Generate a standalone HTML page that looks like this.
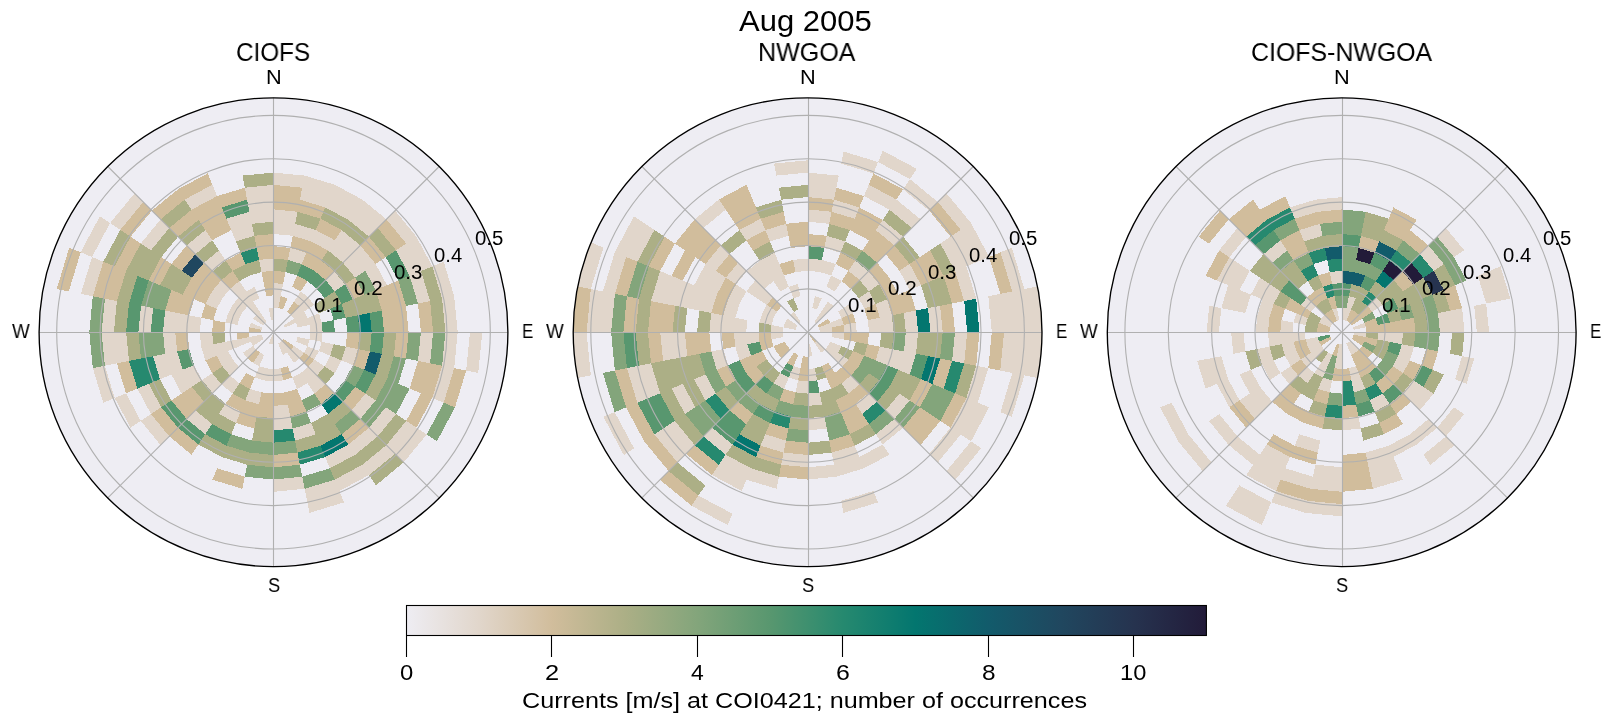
<!DOCTYPE html>
<html><head><meta charset="utf-8"><title>Aug 2005 currents</title>
<style>
html,body{margin:0;padding:0;background:#fff;}
body{width:1611px;height:724px;position:relative;overflow:hidden;font-family:"Liberation Sans",sans-serif;color:#000;}
svg{position:absolute;left:0;top:0;}
.t{position:absolute;white-space:nowrap;line-height:1;transform-origin:0 0;margin:0;will-change:transform;}
</style></head><body>

<svg width="1611" height="724" viewBox="0 0 1611 724">
<defs>
<clipPath id="c0"><circle cx="273.5" cy="332.2" r="234.4"/></clipPath>
<clipPath id="c1"><circle cx="807.6" cy="332.2" r="234.4"/></clipPath>
<clipPath id="c2"><circle cx="1341.7" cy="332.2" r="234.4"/></clipPath>
<linearGradient id="cb" x1="0" x2="1" y1="0" y2="0"><stop offset="0.0000" stop-color="#EEEDF3"/><stop offset="0.0909" stop-color="#E1D6CB"/><stop offset="0.1818" stop-color="#D1BD9C"/><stop offset="0.2727" stop-color="#ACAF86"/><stop offset="0.3636" stop-color="#83A57B"/><stop offset="0.4545" stop-color="#58976F"/><stop offset="0.5455" stop-color="#26896F"/><stop offset="0.6364" stop-color="#03766F"/><stop offset="0.7273" stop-color="#125B6B"/><stop offset="0.8182" stop-color="#20475F"/><stop offset="0.9091" stop-color="#26334F"/><stop offset="1.0000" stop-color="#221B39"/></linearGradient>
</defs>
<circle cx="273.5" cy="332.2" r="234.4" fill="#EEEDF3"/>
<g clip-path="url(#c0)" shape-rendering="crispEdges">
<path fill="#E1D6CB" d="M273.5 307.6L273.5 295.4L280.7 296.1L278.3 308.1ZM273.5 295.4L273.5 283.1L283.1 284.0L280.7 296.1ZM273.5 234.0L273.5 221.7L295.1 223.8L292.7 235.8ZM273.5 221.7L273.5 209.4L297.5 211.8L295.1 223.8ZM273.5 184.8L273.5 172.6L304.6 175.6L302.2 187.7ZM287.9 259.9L290.3 247.9L306.4 252.8L301.7 264.1ZM292.7 235.8L295.1 223.8L315.8 230.1L311.1 241.4ZM299.9 199.7L302.2 187.7L329.9 196.1L325.2 207.4ZM302.2 187.7L304.6 175.6L334.6 184.7L329.9 196.1ZM311.1 241.4L315.8 230.1L334.9 240.3L328.1 250.5ZM325.2 207.4L329.9 196.1L355.4 209.7L348.5 219.9ZM329.9 196.1L334.6 184.7L362.2 199.5L355.4 209.7ZM294.0 301.6L300.8 291.4L308.2 297.5L299.5 306.2ZM328.1 250.5L334.9 240.3L351.6 254.1L343.0 262.7ZM334.9 240.3L341.7 230.1L360.3 245.4L351.6 254.1ZM348.5 219.9L355.4 209.7L377.7 228.0L369.0 236.7ZM355.4 209.7L362.2 199.5L386.4 219.3L377.7 228.0ZM290.9 314.8L299.5 306.2L304.1 311.7L293.9 318.6ZM299.5 306.2L308.2 297.5L314.3 304.9L304.1 311.7ZM325.6 280.1L334.3 271.4L345.0 284.4L334.8 291.3ZM343.0 262.7L351.6 254.1L365.4 270.8L355.2 277.6ZM351.6 254.1L360.3 245.4L375.6 264.0L365.4 270.8ZM386.4 219.3L395.1 210.6L416.4 236.7L406.2 243.5ZM283.7 325.4L293.9 318.6L296.2 322.8L284.8 327.5ZM293.9 318.6L304.1 311.7L307.5 318.1L296.2 322.8ZM365.4 270.8L375.6 264.0L387.0 285.2L375.6 289.9ZM396.0 250.3L406.2 243.5L421.0 271.1L409.6 275.8ZM406.2 243.5L416.4 236.7L432.3 266.4L421.0 271.1ZM296.2 322.8L307.5 318.1L309.6 325.0L297.6 327.4ZM307.5 318.1L318.9 313.4L321.7 322.6L309.6 325.0ZM409.6 275.8L421.0 271.1L430.1 301.1L418.0 303.5ZM432.3 266.4L443.7 261.7L454.2 296.3L442.1 298.7ZM309.6 325.0L321.7 322.6L322.6 332.2L310.3 332.2ZM442.1 298.7L454.2 296.3L457.7 332.2L445.4 332.2ZM310.3 332.2L322.6 332.2L321.7 341.8L309.6 339.4ZM420.9 332.2L433.1 332.2L430.1 363.3L418.0 360.9ZM445.4 332.2L457.7 332.2L454.2 368.1L442.1 365.7ZM470.0 332.2L482.3 332.2L478.2 372.9L466.2 370.5ZM297.6 337.0L309.6 339.4L307.5 346.3L296.2 341.6ZM321.7 341.8L333.7 344.2L330.2 355.7L318.9 351.0ZM345.8 346.6L357.8 349.0L352.9 365.1L341.6 360.4ZM442.1 365.7L454.2 368.1L443.7 402.7L432.3 398.0ZM307.5 346.3L318.9 351.0L314.3 359.5L304.1 352.7ZM330.2 355.7L341.6 360.4L334.8 373.1L324.6 366.3ZM293.9 345.8L304.1 352.7L299.5 358.2L290.9 349.6ZM314.3 359.5L324.6 366.3L316.9 375.6L308.2 366.9ZM365.4 393.6L375.6 400.4L360.3 419.0L351.6 410.3ZM385.8 407.2L396.0 414.1L377.7 436.4L369.0 427.7ZM406.2 420.9L416.4 427.7L395.1 453.8L386.4 445.1ZM416.4 427.7L426.7 434.5L403.7 462.4L395.1 453.8ZM282.2 340.9L290.9 349.6L287.1 352.6L280.3 342.4ZM290.9 349.6L299.5 358.2L294.0 362.8L287.1 352.6ZM308.2 366.9L316.9 375.6L307.6 383.3L300.8 373.0ZM316.9 375.6L325.6 384.3L314.4 393.5L307.6 383.3ZM369.0 427.7L377.7 436.4L355.4 454.7L348.5 444.5ZM386.4 445.1L395.1 453.8L369.0 475.1L362.2 464.9ZM280.3 342.4L287.1 352.6L282.9 354.9L278.2 343.5ZM300.8 373.0L307.6 383.3L297.0 388.9L292.3 377.6ZM348.5 444.5L355.4 454.7L329.9 468.3L325.2 457.0ZM362.2 464.9L369.0 475.1L339.3 491.0L334.6 479.7ZM311.1 423.0L315.8 434.3L295.1 440.6L292.7 428.6ZM334.6 479.7L339.3 491.0L307.0 500.8L304.6 488.8ZM339.3 491.0L344.0 502.4L309.4 512.9L307.0 500.8ZM280.7 368.3L283.1 380.4L273.5 381.3L273.5 369.0ZM287.9 404.5L290.3 416.5L273.5 418.2L273.5 405.9ZM290.3 416.5L292.7 428.6L273.5 430.4L273.5 418.2ZM302.2 476.7L304.6 488.8L273.5 491.8L273.5 479.6ZM273.5 332.2L273.5 344.5L271.1 344.2L273.5 332.2ZM273.5 369.0L273.5 381.3L263.9 380.4L266.3 368.3ZM273.5 332.2L271.1 344.2L268.8 343.5L273.5 332.2ZM266.3 368.3L263.9 380.4L254.7 377.6L259.4 366.2ZM261.5 392.4L259.1 404.5L245.3 400.3L250.0 388.9ZM264.1 354.9L259.4 366.2L253.0 362.8L259.9 352.6ZM240.6 411.6L235.9 423.0L218.9 413.9L225.7 403.7ZM239.4 383.3L232.6 393.5L221.4 384.3L230.1 375.6ZM212.1 424.1L205.3 434.3L186.7 419.0L195.4 410.3ZM256.1 349.6L247.5 358.2L242.9 352.7L253.1 345.8ZM238.8 366.9L230.1 375.6L222.4 366.3L232.7 359.5ZM221.4 384.3L212.7 393.0L202.0 380.0L212.2 373.1ZM169.3 436.4L160.6 445.1L140.8 420.9L151.0 414.1ZM263.3 339.0L253.1 345.8L250.8 341.6L262.2 336.9ZM232.7 359.5L222.4 366.3L216.8 355.7L228.1 351.0ZM202.0 380.0L191.8 386.8L182.7 369.8L194.1 365.1ZM191.8 386.8L181.6 393.6L171.4 374.5L182.7 369.8ZM161.2 407.2L151.0 414.1L137.4 388.6L148.7 383.9ZM140.8 420.9L130.6 427.7L114.7 398.0L126.0 393.3ZM262.2 336.9L250.8 341.6L249.4 337.0L261.5 334.6ZM250.8 341.6L239.5 346.3L237.4 339.4L249.4 337.0ZM239.5 346.3L228.1 351.0L225.3 341.8L237.4 339.4ZM228.1 351.0L216.8 355.7L213.3 344.2L225.3 341.8ZM216.8 355.7L205.4 360.4L201.2 346.6L213.3 344.2ZM182.7 369.8L171.4 374.5L165.1 353.8L177.1 351.4ZM171.4 374.5L160.0 379.2L153.1 356.2L165.1 353.8ZM114.7 398.0L103.3 402.7L92.8 368.1L104.9 365.7ZM213.3 344.2L201.2 346.6L199.8 332.2L212.1 332.2ZM177.1 351.4L165.1 353.8L163.0 332.2L175.3 332.2ZM129.0 360.9L116.9 363.3L113.9 332.2L126.1 332.2ZM116.9 363.3L104.9 365.7L101.6 332.2L113.9 332.2ZM199.8 332.2L187.5 332.2L189.2 315.4L201.2 317.8ZM187.5 332.2L175.3 332.2L177.1 313.0L189.2 315.4ZM175.3 332.2L163.0 332.2L165.1 310.6L177.1 313.0ZM150.7 332.2L138.4 332.2L141.0 305.8L153.1 308.2ZM113.9 332.2L101.6 332.2L104.9 298.7L116.9 301.1ZM261.5 329.8L249.4 327.4L250.8 322.8L262.2 327.5ZM237.4 325.0L225.3 322.6L228.1 313.4L239.5 318.1ZM92.8 296.3L80.8 293.9L92.0 257.0L103.3 261.7ZM239.5 318.1L228.1 313.4L232.7 304.9L242.9 311.7ZM216.8 308.7L205.4 304.0L212.2 291.3L222.4 298.1ZM92.0 257.0L80.6 252.3L99.9 216.2L110.1 223.0ZM263.3 325.4L253.1 318.6L256.1 314.8L264.8 323.5ZM242.9 311.7L232.7 304.9L238.8 297.5L247.5 306.2ZM222.4 298.1L212.2 291.3L221.4 280.1L230.1 288.8ZM151.0 250.3L140.8 243.5L160.6 219.3L169.3 228.0ZM120.3 229.9L110.1 223.0L134.6 193.3L143.3 202.0ZM264.8 323.5L256.1 314.8L259.9 311.8L266.7 322.0ZM256.1 314.8L247.5 306.2L253.0 301.6L259.9 311.8ZM247.5 306.2L238.8 297.5L246.2 291.4L253.0 301.6ZM238.8 297.5L230.1 288.8L239.4 281.1L246.2 291.4ZM212.7 271.4L204.0 262.7L218.9 250.5L225.7 260.7ZM195.4 254.1L186.7 245.4L205.3 230.1L212.1 240.3ZM253.0 301.6L246.2 291.4L254.7 286.8L259.4 298.2ZM191.6 209.7L184.8 199.5L212.4 184.7L217.1 196.1ZM235.9 241.4L231.2 230.1L251.9 223.8L254.3 235.8ZM231.2 230.1L226.5 218.7L249.5 211.8L251.9 223.8ZM271.1 320.2L268.7 308.1L273.5 307.6L273.5 319.9ZM261.5 272.0L259.1 259.9L273.5 258.5L273.5 270.8ZM251.9 223.8L249.5 211.8L273.5 209.4L273.5 221.7ZM249.5 211.8L247.1 199.7L273.5 197.1L273.5 209.4ZM247.1 199.7L244.8 187.7L273.5 184.8L273.5 197.1Z"/>
<path fill="#D1BD9C" d="M273.5 283.1L273.5 270.8L285.5 272.0L283.1 284.0ZM273.5 258.5L273.5 246.2L290.3 247.9L287.9 259.9ZM273.5 209.4L273.5 197.1L299.9 199.7L297.5 211.8ZM273.5 197.1L273.5 184.8L302.2 187.7L299.9 199.7ZM278.3 308.1L280.7 296.1L287.6 298.2L282.9 309.5ZM290.3 247.9L292.7 235.8L311.1 241.4L306.4 252.8ZM297.5 211.8L299.9 199.7L325.2 207.4L320.5 218.7ZM292.3 286.8L297.0 275.5L307.6 281.1L300.8 291.4ZM301.7 264.1L306.4 252.8L321.3 260.7L314.4 270.9ZM306.4 252.8L311.1 241.4L328.1 250.5L321.3 260.7ZM315.8 230.1L320.5 218.7L341.7 230.1L334.9 240.3ZM287.1 311.8L294.0 301.6L299.5 306.2L290.9 314.8ZM314.4 270.9L321.3 260.7L334.3 271.4L325.6 280.1ZM360.3 245.4L369.0 236.7L385.8 257.2L375.6 264.0ZM377.7 228.0L386.4 219.3L406.2 243.5L396.0 250.3ZM345.0 284.4L355.2 277.6L364.3 294.6L352.9 299.3ZM375.6 289.9L387.0 285.2L393.9 308.2L381.9 310.6ZM387.0 285.2L398.3 280.5L406.0 305.8L393.9 308.2ZM381.9 310.6L393.9 308.2L396.3 332.2L384.0 332.2ZM393.9 308.2L406.0 305.8L408.6 332.2L396.3 332.2ZM418.0 303.5L430.1 301.1L433.1 332.2L420.9 332.2ZM347.2 332.2L359.5 332.2L357.8 349.0L345.8 346.6ZM396.3 332.2L408.6 332.2L406.0 358.6L393.9 356.2ZM357.8 349.0L369.9 351.4L364.3 369.8L352.9 365.1ZM418.0 360.9L430.1 363.3L421.0 393.3L409.6 388.6ZM430.1 363.3L442.1 365.7L432.3 398.0L421.0 393.3ZM454.2 368.1L466.2 370.5L455.0 407.4L443.7 402.7ZM421.0 393.3L432.3 398.0L416.4 427.7L406.2 420.9ZM283.7 339.0L293.9 345.8L290.9 349.6L282.2 340.9ZM304.1 352.7L314.3 359.5L308.2 366.9L299.5 358.2ZM355.2 386.8L365.4 393.6L351.6 410.3L343.0 401.7ZM325.6 384.3L334.3 393.0L321.3 403.7L314.4 393.5ZM360.3 419.0L369.0 427.7L348.5 444.5L341.7 434.3ZM287.6 366.2L292.3 377.6L283.1 380.4L280.7 368.3ZM297.0 388.9L301.7 400.3L287.9 404.5L285.5 392.4ZM301.7 400.3L306.4 411.6L290.3 416.5L287.9 404.5ZM285.5 392.4L287.9 404.5L273.5 405.9L273.5 393.6ZM297.5 452.6L299.9 464.7L273.5 467.3L273.5 455.0ZM273.5 393.6L273.5 405.9L259.1 404.5L261.5 392.4ZM273.5 405.9L273.5 418.2L256.7 416.5L259.1 404.5ZM259.1 404.5L256.7 416.5L240.6 411.6L245.3 400.3ZM256.7 416.5L254.3 428.6L235.9 423.0L240.6 411.6ZM244.8 476.7L242.4 488.8L212.4 479.7L217.1 468.3ZM254.7 377.6L250.0 388.9L239.4 383.3L246.2 373.0ZM245.3 400.3L240.6 411.6L225.7 403.7L232.6 393.5ZM259.9 352.6L253.0 362.8L247.5 358.2L256.1 349.6ZM198.5 444.5L191.6 454.7L169.3 436.4L178.0 427.7ZM204.0 401.7L195.4 410.3L181.6 393.6L191.8 386.8ZM195.4 410.3L186.7 419.0L171.4 400.4L181.6 393.6ZM178.0 427.7L169.3 436.4L151.0 414.1L161.2 407.2ZM222.4 366.3L212.2 373.1L205.4 360.4L216.8 355.7ZM137.4 388.6L126.0 393.3L116.9 363.3L129.0 360.9ZM249.4 337.0L237.4 339.4L236.7 332.2L248.9 332.2ZM189.2 349.0L177.1 351.4L175.3 332.2L187.5 332.2ZM261.2 332.2L248.9 332.2L249.4 327.4L261.5 329.8ZM224.4 332.2L212.1 332.2L213.3 320.2L225.3 322.6ZM213.3 320.2L201.2 317.8L205.4 304.0L216.8 308.7ZM189.2 315.4L177.1 313.0L182.7 294.6L194.1 299.3ZM177.1 313.0L165.1 310.6L171.4 289.9L182.7 294.6ZM116.9 301.1L104.9 298.7L114.7 266.4L126.0 271.1ZM104.9 298.7L92.8 296.3L103.3 261.7L114.7 266.4ZM68.8 291.5L56.7 289.1L69.3 247.6L80.6 252.3ZM205.4 304.0L194.1 299.3L202.0 284.4L212.2 291.3ZM194.1 299.3L182.7 294.6L191.8 277.6L202.0 284.4ZM160.0 285.2L148.7 280.5L161.2 257.2L171.4 264.0ZM126.0 271.1L114.7 266.4L130.6 236.7L140.8 243.5ZM212.2 291.3L202.0 284.4L212.7 271.4L221.4 280.1ZM202.0 284.4L191.8 277.6L204.0 262.7L212.7 271.4ZM181.6 270.8L171.4 264.0L186.7 245.4L195.4 254.1ZM130.6 236.7L120.3 229.9L143.3 202.0L151.9 210.6ZM230.1 288.8L221.4 280.1L232.6 270.9L239.4 281.1ZM178.0 236.7L169.3 228.0L191.6 209.7L198.5 219.9ZM160.6 219.3L151.9 210.6L178.0 189.3L184.8 199.5ZM232.6 270.9L225.7 260.7L240.6 252.8L245.3 264.1ZM212.1 240.3L205.3 230.1L226.5 218.7L231.2 230.1ZM205.3 230.1L198.5 219.9L221.8 207.4L226.5 218.7ZM198.5 219.9L191.6 209.7L217.1 196.1L221.8 207.4ZM184.8 199.5L178.0 189.3L207.7 173.4L212.4 184.7ZM221.8 207.4L217.1 196.1L244.8 187.7L247.1 199.7ZM266.3 296.1L263.9 284.0L273.5 283.1L273.5 295.4ZM263.9 284.0L261.5 272.0L273.5 270.8L273.5 283.1ZM259.1 259.9L256.7 247.9L273.5 246.2L273.5 258.5ZM256.7 247.9L254.3 235.8L273.5 234.0L273.5 246.2Z"/>
<path fill="#ACAF86" d="M273.5 270.8L273.5 258.5L287.9 259.9L285.5 272.0ZM295.1 223.8L297.5 211.8L320.5 218.7L315.8 230.1ZM320.5 218.7L325.2 207.4L348.5 219.9L341.7 230.1ZM321.3 260.7L328.1 250.5L343.0 262.7L334.3 271.4ZM341.7 230.1L348.5 219.9L369.0 236.7L360.3 245.4ZM334.3 271.4L343.0 262.7L355.2 277.6L345.0 284.4ZM369.0 236.7L377.7 228.0L396.0 250.3L385.8 257.2ZM314.3 304.9L324.6 298.1L330.2 308.7L318.9 313.4ZM324.6 298.1L334.8 291.3L341.6 304.0L330.2 308.7ZM341.6 304.0L352.9 299.3L357.8 315.4L345.8 317.8ZM352.9 299.3L364.3 294.6L369.9 313.0L357.8 315.4ZM364.3 294.6L375.6 289.9L381.9 310.6L369.9 313.0ZM421.0 271.1L432.3 266.4L442.1 298.7L430.1 301.1ZM430.1 301.1L442.1 298.7L445.4 332.2L433.1 332.2ZM359.5 332.2L371.7 332.2L369.9 351.4L357.8 349.0ZM384.0 332.2L396.3 332.2L393.9 356.2L381.9 353.8ZM333.7 344.2L345.8 346.6L341.6 360.4L330.2 355.7ZM381.9 353.8L393.9 356.2L387.0 379.2L375.6 374.5ZM375.6 374.5L387.0 379.2L375.6 400.4L365.4 393.6ZM324.6 366.3L334.8 373.1L325.6 384.3L316.9 375.6ZM396.0 414.1L406.2 420.9L386.4 445.1L377.7 436.4ZM343.0 401.7L351.6 410.3L334.9 424.1L328.1 413.9ZM377.7 436.4L386.4 445.1L362.2 464.9L355.4 454.7ZM395.1 453.8L403.7 462.4L375.8 485.4L369.0 475.1ZM328.1 413.9L334.9 424.1L315.8 434.3L311.1 423.0ZM334.9 424.1L341.7 434.3L320.5 445.7L315.8 434.3ZM355.4 454.7L362.2 464.9L334.6 479.7L329.9 468.3ZM315.8 434.3L320.5 445.7L297.5 452.6L295.1 440.6ZM273.5 418.2L273.5 430.4L254.3 428.6L256.7 416.5ZM273.5 430.4L273.5 442.7L251.9 440.6L254.3 428.6ZM273.5 455.0L273.5 467.3L247.1 464.7L249.5 452.6ZM249.5 452.6L247.1 464.7L221.8 457.0L226.5 445.7ZM250.0 388.9L245.3 400.3L232.6 393.5L239.4 383.3ZM235.9 423.0L231.2 434.3L212.1 424.1L218.9 413.9ZM226.5 445.7L221.8 457.0L198.5 444.5L205.3 434.3ZM225.7 403.7L218.9 413.9L204.0 401.7L212.7 393.0ZM218.9 413.9L212.1 424.1L195.4 410.3L204.0 401.7ZM230.1 375.6L221.4 384.3L212.2 373.1L222.4 366.3ZM212.7 393.0L204.0 401.7L191.8 386.8L202.0 380.0ZM171.4 400.4L161.2 407.2L148.7 383.9L160.0 379.2ZM225.3 341.8L213.3 344.2L212.1 332.2L224.4 332.2ZM141.0 358.6L129.0 360.9L126.1 332.2L138.4 332.2ZM126.1 332.2L113.9 332.2L116.9 301.1L129.0 303.5ZM129.0 303.5L116.9 301.1L126.0 271.1L137.4 275.8ZM182.7 294.6L171.4 289.9L181.6 270.8L191.8 277.6ZM171.4 289.9L160.0 285.2L171.4 264.0L181.6 270.8ZM148.7 280.5L137.4 275.8L151.0 250.3L161.2 257.2ZM137.4 275.8L126.0 271.1L140.8 243.5L151.0 250.3ZM114.7 266.4L103.3 261.7L120.3 229.9L130.6 236.7ZM161.2 257.2L151.0 250.3L169.3 228.0L178.0 236.7ZM221.4 280.1L212.7 271.4L225.7 260.7L232.6 270.9ZM204.0 262.7L195.4 254.1L212.1 240.3L218.9 250.5ZM186.7 245.4L178.0 236.7L198.5 219.9L205.3 230.1ZM169.3 228.0L160.6 219.3L184.8 199.5L191.6 209.7ZM239.4 281.1L232.6 270.9L245.3 264.1L250.0 275.5ZM250.0 275.5L245.3 264.1L259.1 259.9L261.5 272.0ZM240.6 252.8L235.9 241.4L254.3 235.8L256.7 247.9ZM254.3 235.8L251.9 223.8L273.5 221.7L273.5 234.0ZM244.8 187.7L242.4 175.6L273.5 172.6L273.5 184.8Z"/>
<path fill="#83A57B" d="M285.5 272.0L287.9 259.9L301.7 264.1L297.0 275.5ZM355.2 277.6L365.4 270.8L375.6 289.9L364.3 294.6ZM398.3 280.5L409.6 275.8L418.0 303.5L406.0 305.8ZM408.6 332.2L420.9 332.2L418.0 360.9L406.0 358.6ZM433.1 332.2L445.4 332.2L442.1 365.7L430.1 363.3ZM393.9 356.2L406.0 358.6L398.3 383.9L387.0 379.2ZM352.9 365.1L364.3 369.8L355.2 386.8L345.0 380.0ZM387.0 379.2L398.3 383.9L385.8 407.2L375.6 400.4ZM398.3 383.9L409.6 388.6L396.0 414.1L385.8 407.2ZM443.7 402.7L455.0 407.4L436.9 441.4L426.7 434.5ZM375.6 400.4L385.8 407.2L369.0 427.7L360.3 419.0ZM351.6 410.3L360.3 419.0L341.7 434.3L334.9 424.1ZM314.4 393.5L321.3 403.7L306.4 411.6L301.7 400.3ZM306.4 411.6L311.1 423.0L292.7 428.6L290.3 416.5ZM329.9 468.3L334.6 479.7L304.6 488.8L302.2 476.7ZM295.1 440.6L297.5 452.6L273.5 455.0L273.5 442.7ZM299.9 464.7L302.2 476.7L273.5 479.6L273.5 467.3ZM273.5 442.7L273.5 455.0L249.5 452.6L251.9 440.6ZM273.5 467.3L273.5 479.6L244.8 476.7L247.1 464.7ZM251.9 440.6L249.5 452.6L226.5 445.7L231.2 434.3ZM165.1 353.8L153.1 356.2L150.7 332.2L163.0 332.2ZM153.1 356.2L141.0 358.6L138.4 332.2L150.7 332.2ZM104.9 365.7L92.8 368.1L89.3 332.2L101.6 332.2ZM101.6 332.2L89.3 332.2L92.8 296.3L104.9 298.7ZM165.1 310.6L153.1 308.2L160.0 285.2L171.4 289.9ZM153.1 308.2L141.0 305.8L148.7 280.5L160.0 285.2Z"/>
<path fill="#58976F" d="M297.0 275.5L301.7 264.1L314.4 270.9L307.6 281.1ZM307.6 281.1L314.4 270.9L325.6 280.1L316.9 288.8ZM316.9 288.8L325.6 280.1L334.8 291.3L324.6 298.1ZM334.8 291.3L345.0 284.4L352.9 299.3L341.6 304.0ZM385.8 257.2L396.0 250.3L409.6 275.8L398.3 280.5ZM330.2 308.7L341.6 304.0L345.8 317.8L333.7 320.2ZM321.7 322.6L333.7 320.2L334.9 332.2L322.6 332.2ZM345.8 317.8L357.8 315.4L359.5 332.2L347.2 332.2ZM369.9 313.0L381.9 310.6L384.0 332.2L371.7 332.2ZM371.7 332.2L384.0 332.2L381.9 353.8L369.9 351.4ZM364.3 369.8L375.6 374.5L365.4 393.6L355.2 386.8ZM345.0 380.0L355.2 386.8L343.0 401.7L334.3 393.0ZM231.2 434.3L226.5 445.7L205.3 434.3L212.1 424.1ZM205.3 434.3L198.5 444.5L178.0 427.7L186.7 419.0ZM186.7 419.0L178.0 427.7L161.2 407.2L171.4 400.4ZM194.1 365.1L182.7 369.8L177.1 351.4L189.2 349.0ZM163.0 332.2L150.7 332.2L153.1 308.2L165.1 310.6ZM138.4 332.2L126.1 332.2L129.0 303.5L141.0 305.8ZM141.0 305.8L129.0 303.5L137.4 275.8L148.7 280.5ZM226.5 218.7L221.8 207.4L247.1 199.7L249.5 211.8Z"/>
<path fill="#26896F" d="M320.5 445.7L325.2 457.0L299.9 464.7L297.5 452.6ZM292.7 428.6L295.1 440.6L273.5 442.7L273.5 430.4ZM160.0 379.2L148.7 383.9L141.0 358.6L153.1 356.2ZM148.7 383.9L137.4 388.6L129.0 360.9L141.0 358.6ZM245.3 264.1L240.6 252.8L256.7 247.9L259.1 259.9Z"/>
<path fill="#03766F" d="M357.8 315.4L369.9 313.0L371.7 332.2L359.5 332.2ZM334.3 393.0L343.0 401.7L328.1 413.9L321.3 403.7ZM341.7 434.3L348.5 444.5L325.2 457.0L320.5 445.7Z"/>
<path fill="#125B6B" d="M369.9 351.4L381.9 353.8L375.6 374.5L364.3 369.8Z"/>
<path fill="#20475F" d="M191.8 277.6L181.6 270.8L195.4 254.1L204.0 262.7Z"/>
</g>
<g fill="none" stroke="#b0b0b0" stroke-width="1.1">
<circle cx="273.5" cy="332.2" r="43.36"/>
<circle cx="273.5" cy="332.2" r="86.72"/>
<circle cx="273.5" cy="332.2" r="130.08"/>
<circle cx="273.5" cy="332.2" r="173.44"/>
<circle cx="273.5" cy="332.2" r="216.80"/>
<path d="M273.5 332.2L439.2 166.5"/>
<path d="M273.5 332.2L439.2 497.9"/>
<path d="M273.5 332.2L107.8 497.9"/>
<path d="M273.5 332.2L107.8 166.5"/>
<path d="M273.5 97.8V566.6"/>
<path d="M39.1 332.5H507.9"/>
</g>
<circle cx="273.5" cy="332.2" r="234.4" fill="none" stroke="#000" stroke-width="1.35"/>
<circle cx="807.6" cy="332.2" r="234.4" fill="#EEEDF3"/>
<g clip-path="url(#c1)" shape-rendering="crispEdges">
<path fill="#E1D6CB" d="M807.6 270.8L807.6 258.5L822.0 259.9L819.6 272.0ZM807.6 221.7L807.6 209.4L831.6 211.8L829.2 223.8ZM807.6 197.1L807.6 184.8L836.3 187.7L834.0 199.7ZM807.6 184.8L807.6 172.6L838.7 175.6L836.3 187.7ZM812.4 308.1L814.8 296.1L821.7 298.2L817.0 309.5ZM819.6 272.0L822.0 259.9L835.8 264.1L831.1 275.5ZM824.4 247.9L826.8 235.8L845.2 241.4L840.5 252.8ZM831.6 211.8L834.0 199.7L859.3 207.4L854.6 218.7ZM841.1 163.6L843.5 151.5L878.1 162.0L873.4 173.4ZM826.4 286.8L831.1 275.5L841.7 281.1L834.9 291.4ZM864.0 196.1L868.7 184.7L896.3 199.5L889.5 209.7ZM878.1 162.0L882.8 150.7L916.8 168.8L909.9 179.0ZM814.4 322.0L821.2 311.8L825.0 314.8L816.3 323.5ZM821.2 311.8L828.1 301.6L833.6 306.2L825.0 314.8ZM848.5 270.9L855.4 260.7L868.4 271.4L859.7 280.1ZM875.8 230.1L882.6 219.9L903.1 236.7L894.4 245.4ZM889.5 209.7L896.3 199.5L920.5 219.3L911.8 228.0ZM903.1 189.3L909.9 179.0L937.8 202.0L929.2 210.6ZM859.7 280.1L868.4 271.4L879.1 284.4L868.9 291.3ZM937.8 202.0L946.5 193.3L971.0 223.0L960.8 229.9ZM838.2 311.7L848.4 304.9L853.0 313.4L841.6 318.1ZM858.7 298.1L868.9 291.3L875.7 304.0L864.3 308.7ZM899.5 270.8L909.7 264.0L921.1 285.2L909.7 289.9ZM940.3 243.5L950.5 236.7L966.4 266.4L955.1 271.1ZM950.5 236.7L960.8 229.9L977.8 261.7L966.4 266.4ZM960.8 229.9L971.0 223.0L989.1 257.0L977.8 261.7ZM818.9 327.5L830.3 322.8L831.7 327.4L819.6 329.8ZM830.3 322.8L841.6 318.1L843.7 325.0L831.7 327.4ZM875.7 304.0L887.0 299.3L891.9 315.4L879.9 317.8ZM955.1 271.1L966.4 266.4L976.2 298.7L964.2 301.1ZM1000.5 252.3L1011.8 247.6L1024.4 289.1L1012.3 291.5ZM819.6 329.8L831.7 327.4L832.2 332.2L819.9 332.2ZM843.7 325.0L855.8 322.6L856.7 332.2L844.4 332.2ZM867.8 320.2L879.9 317.8L881.3 332.2L869.0 332.2ZM879.9 317.8L891.9 315.4L893.6 332.2L881.3 332.2ZM904.0 313.0L916.0 310.6L918.1 332.2L905.8 332.2ZM928.0 308.2L940.1 305.8L942.7 332.2L930.4 332.2ZM988.3 296.3L1000.3 293.9L1004.1 332.2L991.8 332.2ZM1000.3 293.9L1012.3 291.5L1016.4 332.2L1004.1 332.2ZM1012.3 291.5L1024.4 289.1L1028.6 332.2L1016.4 332.2ZM1024.4 289.1L1038.7 286.2L1043.2 332.2L1028.6 332.2ZM832.2 332.2L844.4 332.2L843.7 339.4L831.7 337.0ZM905.8 332.2L918.1 332.2L916.0 353.8L904.0 351.4ZM955.0 332.2L967.2 332.2L964.2 363.3L952.1 360.9ZM1004.1 332.2L1016.4 332.2L1012.3 372.9L1000.3 370.5ZM1016.4 332.2L1028.6 332.2L1024.4 375.3L1012.3 372.9ZM1028.6 332.2L1043.2 332.2L1038.7 378.2L1024.4 375.3ZM879.9 346.6L891.9 349.0L887.0 365.1L875.7 360.4ZM891.9 349.0L904.0 351.4L898.4 369.8L887.0 365.1ZM904.0 351.4L916.0 353.8L909.7 374.5L898.4 369.8ZM976.2 365.7L988.3 368.1L977.8 402.7L966.4 398.0ZM1012.3 372.9L1024.4 375.3L1011.8 416.8L1000.5 412.1ZM830.3 341.6L841.6 346.3L838.2 352.7L828.0 345.8ZM966.4 398.0L977.8 402.7L960.8 434.5L950.5 427.7ZM977.8 402.7L989.1 407.4L971.0 441.4L960.8 434.5ZM828.0 345.8L838.2 352.7L833.6 358.2L825.0 349.6ZM838.2 352.7L848.4 359.5L842.3 366.9L833.6 358.2ZM899.5 393.6L909.7 400.4L894.4 419.0L885.7 410.3ZM950.5 427.7L960.8 434.5L937.8 462.4L929.2 453.8ZM971.0 441.4L981.2 448.2L955.2 479.8L946.5 471.1ZM816.3 340.9L825.0 349.6L821.2 352.6L814.4 342.4ZM851.0 375.6L859.7 384.3L848.5 393.5L841.7 383.3ZM868.4 393.0L877.1 401.7L862.2 413.9L855.4 403.7ZM894.4 419.0L903.1 427.7L882.6 444.5L875.8 434.3ZM882.6 444.5L889.5 454.7L864.0 468.3L859.3 457.0ZM854.6 445.7L859.3 457.0L834.0 464.7L831.6 452.6ZM859.3 457.0L864.0 468.3L836.3 476.7L834.0 464.7ZM873.4 491.0L878.1 502.4L843.5 512.9L841.1 500.8ZM810.0 344.2L812.4 356.3L807.6 356.8L807.6 344.5ZM814.8 368.3L817.2 380.4L807.6 381.3L807.6 369.0ZM819.6 392.4L822.0 404.5L807.6 405.9L807.6 393.6ZM824.4 416.5L826.8 428.6L807.6 430.4L807.6 418.2ZM834.0 464.7L836.3 476.7L807.6 479.6L807.6 467.3ZM807.6 381.3L807.6 393.6L795.6 392.4L798.0 380.4ZM807.6 455.0L807.6 467.3L781.2 464.7L783.6 452.6ZM800.4 368.3L798.0 380.4L788.8 377.6L793.5 366.2ZM786.0 440.6L783.6 452.6L760.6 445.7L765.3 434.3ZM778.9 476.7L776.5 488.8L746.5 479.7L751.2 468.3ZM788.8 377.6L784.1 388.9L773.5 383.3L780.3 373.0ZM751.2 468.3L746.5 479.7L718.9 464.9L725.7 454.7ZM746.5 479.7L741.8 491.0L712.1 475.1L718.9 464.9ZM732.4 513.7L727.7 525.1L691.6 505.8L698.4 495.6ZM732.6 444.5L725.7 454.7L703.4 436.4L712.1 427.7ZM694.7 445.1L686.0 453.8L664.7 427.7L674.9 420.9ZM686.0 453.8L677.4 462.4L654.4 434.5L664.7 427.7ZM715.7 393.6L705.5 400.4L694.1 379.2L705.5 374.5ZM695.3 407.2L685.1 414.1L671.5 388.6L682.8 383.9ZM634.0 448.2L623.8 455.0L603.4 416.8L614.7 412.1ZM750.9 355.7L739.5 360.4L735.3 346.6L747.4 344.2ZM728.2 365.1L716.8 369.8L711.2 351.4L723.3 349.0ZM660.1 393.3L648.8 398.0L639.0 365.7L651.0 363.3ZM648.8 398.0L637.4 402.7L626.9 368.1L639.0 365.7ZM783.5 337.0L771.5 339.4L770.8 332.2L783.0 332.2ZM759.4 341.8L747.4 344.2L746.2 332.2L758.5 332.2ZM747.4 344.2L735.3 346.6L733.9 332.2L746.2 332.2ZM687.2 356.2L675.1 358.6L672.5 332.2L684.8 332.2ZM675.1 358.6L663.1 360.9L660.2 332.2L672.5 332.2ZM590.8 375.3L576.5 378.2L572.0 332.2L586.6 332.2ZM783.0 332.2L770.8 332.2L771.5 325.0L783.5 327.4ZM746.2 332.2L733.9 332.2L735.3 317.8L747.4 320.2ZM733.9 332.2L721.6 332.2L723.3 315.4L735.3 317.8ZM721.6 332.2L709.4 332.2L711.2 313.0L723.3 315.4ZM611.1 332.2L598.8 332.2L602.9 291.5L614.9 293.9ZM598.8 332.2L586.6 332.2L590.8 289.1L602.9 291.5ZM795.6 329.8L783.5 327.4L784.9 322.8L796.3 327.5ZM771.5 325.0L759.4 322.6L762.2 313.4L773.6 318.1ZM735.3 317.8L723.3 315.4L728.2 299.3L739.5 304.0ZM711.2 313.0L699.2 310.6L705.5 289.9L716.8 294.6ZM699.2 310.6L687.2 308.2L694.1 285.2L705.5 289.9ZM687.2 308.2L675.1 305.8L682.8 280.5L694.1 285.2ZM675.1 305.8L663.1 303.5L671.5 275.8L682.8 280.5ZM663.1 303.5L651.0 301.1L660.1 271.1L671.5 275.8ZM614.9 293.9L602.9 291.5L614.7 252.3L626.1 257.0ZM590.8 289.1L576.5 286.2L589.9 242.0L603.4 247.6ZM796.3 327.5L784.9 322.8L787.2 318.6L797.4 325.4ZM773.6 318.1L762.2 313.4L766.8 304.9L777.0 311.7ZM739.5 304.0L728.2 299.3L736.1 284.4L746.3 291.3ZM716.8 294.6L705.5 289.9L715.7 270.8L725.9 277.6ZM705.5 289.9L694.1 285.2L705.5 264.0L715.7 270.8ZM637.4 261.7L626.1 257.0L644.2 223.0L654.4 229.9ZM626.1 257.0L614.7 252.3L634.0 216.2L644.2 223.0ZM766.8 304.9L756.5 298.1L764.2 288.8L772.9 297.5ZM756.5 298.1L746.3 291.3L755.5 280.1L764.2 288.8ZM736.1 284.4L725.9 277.6L738.1 262.7L746.8 271.4ZM715.7 270.8L705.5 264.0L720.8 245.4L729.5 254.1ZM798.9 323.5L790.2 314.8L794.0 311.8L800.8 322.0ZM764.2 288.8L755.5 280.1L766.7 270.9L773.5 281.1ZM755.5 280.1L746.8 271.4L759.8 260.7L766.7 270.9ZM703.4 228.0L694.7 219.3L718.9 199.5L725.7 209.7ZM780.3 291.4L773.5 281.1L784.1 275.5L788.8 286.8ZM773.5 281.1L766.7 270.9L779.4 264.1L784.1 275.5ZM766.7 270.9L759.8 260.7L774.7 252.8L779.4 264.1ZM746.2 240.3L739.4 230.1L760.6 218.7L765.3 230.1ZM793.5 298.2L788.8 286.8L798.0 284.0L800.4 296.1ZM770.0 241.4L765.3 230.1L786.0 223.8L788.4 235.8ZM795.6 272.0L793.2 259.9L807.6 258.5L807.6 270.8ZM776.5 175.6L774.1 163.6L807.6 160.3L807.6 172.6Z"/>
<path fill="#D1BD9C" d="M807.6 246.2L807.6 234.0L826.8 235.8L824.4 247.9ZM807.6 209.4L807.6 197.1L834.0 199.7L831.6 211.8ZM829.2 223.8L831.6 211.8L854.6 218.7L849.9 230.1ZM834.0 199.7L836.3 187.7L864.0 196.1L859.3 207.4ZM835.8 264.1L840.5 252.8L855.4 260.7L848.5 270.9ZM849.9 230.1L854.6 218.7L875.8 230.1L869.0 240.3ZM854.6 218.7L859.3 207.4L882.6 219.9L875.8 230.1ZM868.7 184.7L873.4 173.4L903.1 189.3L896.3 199.5ZM841.7 281.1L848.5 270.9L859.7 280.1L851.0 288.8ZM862.2 250.5L869.0 240.3L885.7 254.1L877.1 262.7ZM869.0 240.3L875.8 230.1L894.4 245.4L885.7 254.1ZM868.4 271.4L877.1 262.7L889.3 277.6L879.1 284.4ZM885.7 254.1L894.4 245.4L909.7 264.0L899.5 270.8ZM929.2 210.6L937.8 202.0L960.8 229.9L950.5 236.7ZM817.8 325.4L828.0 318.6L830.3 322.8L818.9 327.5ZM879.1 284.4L889.3 277.6L898.4 294.6L887.0 299.3ZM909.7 264.0L919.9 257.2L932.4 280.5L921.1 285.2ZM919.9 257.2L930.1 250.3L943.7 275.8L932.4 280.5ZM841.6 318.1L853.0 313.4L855.8 322.6L843.7 325.0ZM864.3 308.7L875.7 304.0L879.9 317.8L867.8 320.2ZM887.0 299.3L898.4 294.6L904.0 313.0L891.9 315.4ZM898.4 294.6L909.7 289.9L916.0 310.6L904.0 313.0ZM943.7 275.8L955.1 271.1L964.2 301.1L952.1 303.5ZM989.1 257.0L1000.5 252.3L1012.3 291.5L1000.3 293.9ZM831.7 327.4L843.7 325.0L844.4 332.2L832.2 332.2ZM940.1 305.8L952.1 303.5L955.0 332.2L942.7 332.2ZM844.4 332.2L856.7 332.2L855.8 341.8L843.7 339.4ZM856.7 332.2L869.0 332.2L867.8 344.2L855.8 341.8ZM967.2 332.2L979.5 332.2L976.2 365.7L964.2 363.3ZM991.8 332.2L1004.1 332.2L1000.3 370.5L988.3 368.1ZM867.8 344.2L879.9 346.6L875.7 360.4L864.3 355.7ZM940.1 358.6L952.1 360.9L943.7 388.6L932.4 383.9ZM853.0 351.0L864.3 355.7L858.7 366.3L848.4 359.5ZM921.1 379.2L932.4 383.9L919.9 407.2L909.7 400.4ZM955.1 393.3L966.4 398.0L950.5 427.7L940.3 420.9ZM848.4 359.5L858.7 366.3L851.0 375.6L842.3 366.9ZM919.9 407.2L930.1 414.1L911.8 436.4L903.1 427.7ZM930.1 414.1L940.3 420.9L920.5 445.1L911.8 436.4ZM807.6 332.2L816.3 340.9L814.4 342.4L807.6 332.2ZM842.3 366.9L851.0 375.6L841.7 383.3L834.9 373.0ZM859.7 384.3L868.4 393.0L855.4 403.7L848.5 393.5ZM828.1 362.8L834.9 373.0L826.4 377.6L821.7 366.2ZM834.9 373.0L841.7 383.3L831.1 388.9L826.4 377.6ZM848.5 393.5L855.4 403.7L840.5 411.6L835.8 400.3ZM855.4 403.7L862.2 413.9L845.2 423.0L840.5 411.6ZM862.2 413.9L869.0 424.1L849.9 434.3L845.2 423.0ZM849.9 434.3L854.6 445.7L831.6 452.6L829.2 440.6ZM807.6 356.8L807.6 369.0L800.4 368.3L802.8 356.3ZM807.6 369.0L807.6 381.3L798.0 380.4L800.4 368.3ZM807.6 442.7L807.6 455.0L783.6 452.6L786.0 440.6ZM807.6 467.3L807.6 479.6L778.9 476.7L781.2 464.7ZM795.6 392.4L793.2 404.5L779.4 400.3L784.1 388.9ZM788.4 428.6L786.0 440.6L765.3 434.3L770.0 423.0ZM783.6 452.6L781.2 464.7L755.9 457.0L760.6 445.7ZM798.2 354.9L793.5 366.2L787.1 362.8L794.0 352.6ZM753.0 413.9L746.2 424.1L729.5 410.3L738.1 401.7ZM718.9 464.9L712.1 475.1L686.0 453.8L694.7 445.1ZM698.4 495.6L691.6 505.8L660.0 479.8L668.7 471.1ZM790.2 349.6L781.6 358.2L777.0 352.7L787.2 345.8ZM764.2 375.6L755.5 384.3L746.3 373.1L756.5 366.3ZM677.4 462.4L668.7 471.1L644.2 441.4L654.4 434.5ZM787.2 345.8L777.0 352.7L773.6 346.3L784.9 341.6ZM766.8 359.5L756.5 366.3L750.9 355.7L762.2 351.0ZM756.5 366.3L746.3 373.1L739.5 360.4L750.9 355.7ZM736.1 380.0L725.9 386.8L716.8 369.8L728.2 365.1ZM654.4 434.5L644.2 441.4L626.1 407.4L637.4 402.7ZM773.6 346.3L762.2 351.0L759.4 341.8L771.5 339.4ZM637.4 402.7L626.1 407.4L614.9 370.5L626.9 368.1ZM771.5 339.4L759.4 341.8L758.5 332.2L770.8 332.2ZM735.3 346.6L723.3 349.0L721.6 332.2L733.9 332.2ZM711.2 351.4L699.2 353.8L697.1 332.2L709.4 332.2ZM699.2 353.8L687.2 356.2L684.8 332.2L697.1 332.2ZM663.1 360.9L651.0 363.3L648.0 332.2L660.2 332.2ZM672.5 332.2L660.2 332.2L663.1 303.5L675.1 305.8ZM660.2 332.2L648.0 332.2L651.0 301.1L663.1 303.5ZM635.7 332.2L623.4 332.2L626.9 296.3L639.0 298.7ZM586.6 332.2L572.0 332.2L576.5 286.2L590.8 289.1ZM723.3 315.4L711.2 313.0L716.8 294.6L728.2 299.3ZM626.9 296.3L614.9 293.9L626.1 257.0L637.4 261.7ZM728.2 299.3L716.8 294.6L725.9 277.6L736.1 284.4ZM682.8 280.5L671.5 275.8L685.1 250.3L695.3 257.2ZM660.1 271.1L648.8 266.4L664.7 236.7L674.9 243.5ZM777.0 311.7L766.8 304.9L772.9 297.5L781.6 306.2ZM725.9 277.6L715.7 270.8L729.5 254.1L738.1 262.7ZM705.5 264.0L695.3 257.2L712.1 236.7L720.8 245.4ZM695.3 257.2L685.1 250.3L703.4 228.0L712.1 236.7ZM685.1 250.3L674.9 243.5L694.7 219.3L703.4 228.0ZM753.0 250.5L746.2 240.3L765.3 230.1L770.0 241.4ZM739.4 230.1L732.6 219.9L755.9 207.4L760.6 218.7ZM732.6 219.9L725.7 209.7L751.2 196.1L755.9 207.4ZM725.7 209.7L718.9 199.5L746.5 184.7L751.2 196.1ZM784.1 275.5L779.4 264.1L793.2 259.9L795.6 272.0ZM765.3 230.1L760.6 218.7L783.6 211.8L786.0 223.8ZM790.8 247.9L788.4 235.8L807.6 234.0L807.6 246.2ZM788.4 235.8L786.0 223.8L807.6 221.7L807.6 234.0Z"/>
<path fill="#ACAF86" d="M826.8 235.8L829.2 223.8L849.9 230.1L845.2 241.4ZM840.5 252.8L845.2 241.4L862.2 250.5L855.4 260.7ZM882.6 219.9L889.5 209.7L911.8 228.0L903.1 236.7ZM851.0 288.8L859.7 280.1L868.9 291.3L858.7 298.1ZM894.4 245.4L903.1 236.7L919.9 257.2L909.7 264.0ZM868.9 291.3L879.1 284.4L887.0 299.3L875.7 304.0ZM930.1 250.3L940.3 243.5L955.1 271.1L943.7 275.8ZM921.1 285.2L932.4 280.5L940.1 305.8L928.0 308.2ZM932.4 280.5L943.7 275.8L952.1 303.5L940.1 305.8ZM891.9 315.4L904.0 313.0L905.8 332.2L893.6 332.2ZM881.3 332.2L893.6 332.2L891.9 349.0L879.9 346.6ZM918.1 332.2L930.4 332.2L928.0 356.2L916.0 353.8ZM930.4 332.2L942.7 332.2L940.1 358.6L928.0 356.2ZM855.8 341.8L867.8 344.2L864.3 355.7L853.0 351.0ZM964.2 363.3L976.2 365.7L966.4 398.0L955.1 393.3ZM841.6 346.3L853.0 351.0L848.4 359.5L838.2 352.7ZM898.4 369.8L909.7 374.5L899.5 393.6L889.3 386.8ZM909.7 374.5L921.1 379.2L909.7 400.4L899.5 393.6ZM868.9 373.1L879.1 380.0L868.4 393.0L859.7 384.3ZM889.3 386.8L899.5 393.6L885.7 410.3L877.1 401.7ZM841.7 383.3L848.5 393.5L835.8 400.3L831.1 388.9ZM869.0 424.1L875.8 434.3L854.6 445.7L849.9 434.3ZM821.7 366.2L826.4 377.6L817.2 380.4L814.8 368.3ZM831.1 388.9L835.8 400.3L822.0 404.5L819.6 392.4ZM835.8 400.3L840.5 411.6L824.4 416.5L822.0 404.5ZM822.0 404.5L824.4 416.5L807.6 418.2L807.6 405.9ZM829.2 440.6L831.6 452.6L807.6 455.0L807.6 442.7ZM807.6 393.6L807.6 405.9L793.2 404.5L795.6 392.4ZM807.6 418.2L807.6 430.4L788.4 428.6L790.8 416.5ZM781.2 464.7L778.9 476.7L751.2 468.3L755.9 457.0ZM779.4 400.3L774.7 411.6L759.8 403.7L766.7 393.5ZM770.0 423.0L765.3 434.3L746.2 424.1L753.0 413.9ZM765.3 434.3L760.6 445.7L739.4 434.3L746.2 424.1ZM755.9 457.0L751.2 468.3L725.7 454.7L732.6 444.5ZM780.3 373.0L773.5 383.3L764.2 375.6L772.9 366.9ZM766.7 393.5L759.8 403.7L746.8 393.0L755.5 384.3ZM705.3 485.4L698.4 495.6L668.7 471.1L677.4 462.4ZM772.9 366.9L764.2 375.6L756.5 366.3L766.8 359.5ZM738.1 401.7L729.5 410.3L715.7 393.6L725.9 386.8ZM703.4 436.4L694.7 445.1L674.9 420.9L685.1 414.1ZM705.5 400.4L695.3 407.2L682.8 383.9L694.1 379.2ZM685.1 414.1L674.9 420.9L660.1 393.3L671.5 388.6ZM705.5 374.5L694.1 379.2L687.2 356.2L699.2 353.8ZM694.1 379.2L682.8 383.9L675.1 358.6L687.2 356.2ZM682.8 383.9L671.5 388.6L663.1 360.9L675.1 358.6ZM671.5 388.6L660.1 393.3L651.0 363.3L663.1 360.9ZM651.0 363.3L639.0 365.7L635.7 332.2L648.0 332.2ZM770.8 332.2L758.5 332.2L759.4 322.6L771.5 325.0ZM709.4 332.2L697.1 332.2L699.2 310.6L711.2 313.0ZM684.8 332.2L672.5 332.2L675.1 305.8L687.2 308.2ZM648.0 332.2L635.7 332.2L639.0 298.7L651.0 301.1ZM651.0 301.1L639.0 298.7L648.8 266.4L660.1 271.1ZM648.8 266.4L637.4 261.7L654.4 229.9L664.7 236.7ZM729.5 254.1L720.8 245.4L739.4 230.1L746.2 240.3ZM794.0 311.8L787.1 301.6L793.5 298.2L798.2 309.5ZM759.8 260.7L753.0 250.5L770.0 241.4L774.7 252.8ZM760.6 218.7L755.9 207.4L781.2 199.7L783.6 211.8ZM781.2 199.7L778.9 187.7L807.6 184.8L807.6 197.1Z"/>
<path fill="#83A57B" d="M855.4 260.7L862.2 250.5L877.1 262.7L868.4 271.4ZM893.6 332.2L905.8 332.2L904.0 351.4L891.9 349.0ZM942.7 332.2L955.0 332.2L952.1 360.9L940.1 358.6ZM864.3 355.7L875.7 360.4L868.9 373.1L858.7 366.3ZM875.7 360.4L887.0 365.1L879.1 380.0L868.9 373.1ZM932.4 383.9L943.7 388.6L930.1 414.1L919.9 407.2ZM943.7 388.6L955.1 393.3L940.3 420.9L930.1 414.1ZM858.7 366.3L868.9 373.1L859.7 384.3L851.0 375.6ZM909.7 400.4L919.9 407.2L903.1 427.7L894.4 419.0ZM885.7 410.3L894.4 419.0L875.8 434.3L869.0 424.1ZM840.5 411.6L845.2 423.0L826.8 428.6L824.4 416.5ZM845.2 423.0L849.9 434.3L829.2 440.6L826.8 428.6ZM807.6 405.9L807.6 418.2L790.8 416.5L793.2 404.5ZM807.6 430.4L807.6 442.7L786.0 440.6L788.4 428.6ZM793.2 404.5L790.8 416.5L774.7 411.6L779.4 400.3ZM784.1 388.9L779.4 400.3L766.7 393.5L773.5 383.3ZM759.8 403.7L753.0 413.9L738.1 401.7L746.8 393.0ZM746.8 393.0L738.1 401.7L725.9 386.8L736.1 380.0ZM720.8 419.0L712.1 427.7L695.3 407.2L705.5 400.4ZM712.1 427.7L703.4 436.4L685.1 414.1L695.3 407.2ZM725.9 386.8L715.7 393.6L705.5 374.5L716.8 369.8ZM716.8 369.8L705.5 374.5L699.2 353.8L711.2 351.4ZM626.1 407.4L614.7 412.1L602.9 372.9L614.9 370.5ZM626.9 368.1L614.9 370.5L611.1 332.2L623.4 332.2ZM623.4 332.2L611.1 332.2L614.9 293.9L626.9 296.3ZM639.0 298.7L626.9 296.3L637.4 261.7L648.8 266.4Z"/>
<path fill="#58976F" d="M807.6 258.5L807.6 246.2L824.4 247.9L822.0 259.9ZM916.0 353.8L928.0 356.2L921.1 379.2L909.7 374.5ZM887.0 365.1L898.4 369.8L889.3 386.8L879.1 380.0ZM879.1 380.0L889.3 386.8L877.1 401.7L868.4 393.0ZM817.2 380.4L819.6 392.4L807.6 393.6L807.6 381.3ZM793.5 366.2L788.8 377.6L780.3 373.0L787.1 362.8ZM774.7 411.6L770.0 423.0L753.0 413.9L759.8 403.7ZM773.5 383.3L766.7 393.5L755.5 384.3L764.2 375.6ZM746.2 424.1L739.4 434.3L720.8 419.0L729.5 410.3ZM739.4 434.3L732.6 444.5L712.1 427.7L720.8 419.0ZM755.5 384.3L746.8 393.0L736.1 380.0L746.3 373.1ZM746.3 373.1L736.1 380.0L728.2 365.1L739.5 360.4ZM674.9 420.9L664.7 427.7L648.8 398.0L660.1 393.3ZM664.7 427.7L654.4 434.5L637.4 402.7L648.8 398.0ZM762.2 351.0L750.9 355.7L747.4 344.2L759.4 341.8ZM639.0 365.7L626.9 368.1L623.4 332.2L635.7 332.2Z"/>
<path fill="#26896F" d="M952.1 360.9L964.2 363.3L955.1 393.3L943.7 388.6ZM877.1 401.7L885.7 410.3L869.0 424.1L862.2 413.9ZM790.8 416.5L788.4 428.6L770.0 423.0L774.7 411.6ZM725.7 454.7L718.9 464.9L694.7 445.1L703.4 436.4ZM729.5 410.3L720.8 419.0L705.5 400.4L715.7 393.6Z"/>
<path fill="#03766F" d="M916.0 310.6L928.0 308.2L930.4 332.2L918.1 332.2ZM964.2 301.1L976.2 298.7L979.5 332.2L967.2 332.2ZM928.0 356.2L940.1 358.6L932.4 383.9L921.1 379.2ZM760.6 445.7L755.9 457.0L732.6 444.5L739.4 434.3Z"/>
</g>
<g fill="none" stroke="#b0b0b0" stroke-width="1.1">
<circle cx="807.6" cy="332.2" r="43.36"/>
<circle cx="807.6" cy="332.2" r="86.72"/>
<circle cx="807.6" cy="332.2" r="130.08"/>
<circle cx="807.6" cy="332.2" r="173.44"/>
<circle cx="807.6" cy="332.2" r="216.80"/>
<path d="M807.6 332.2L973.3 166.5"/>
<path d="M807.6 332.2L973.3 497.9"/>
<path d="M807.6 332.2L641.9 497.9"/>
<path d="M807.6 332.2L641.9 166.5"/>
<path d="M808.5 97.8V566.6"/>
<path d="M573.2 332.5H1042.0"/>
</g>
<circle cx="807.6" cy="332.2" r="234.4" fill="none" stroke="#000" stroke-width="1.35"/>
<circle cx="1341.7" cy="332.2" r="234.4" fill="#EEEDF3"/>
<g clip-path="url(#c2)" shape-rendering="crispEdges">
<path fill="#E1D6CB" d="M1341.7 319.9L1341.7 307.6L1346.5 308.1L1344.1 320.2ZM1344.1 320.2L1346.5 308.1L1351.1 309.5L1346.4 320.9ZM1346.5 308.1L1348.9 296.1L1355.8 298.2L1351.1 309.5ZM1367.7 306.2L1376.4 297.5L1382.5 304.9L1372.3 311.7ZM1419.8 254.1L1428.5 245.4L1443.8 264.0L1433.6 270.8ZM1437.2 236.7L1445.9 228.0L1464.2 250.3L1454.0 257.2ZM1353.0 327.5L1364.4 322.8L1365.8 327.4L1353.7 329.8ZM1477.8 275.8L1489.2 271.1L1498.3 301.1L1486.2 303.5ZM1489.2 271.1L1500.5 266.4L1510.3 298.7L1498.3 301.1ZM1438.1 313.0L1450.1 310.6L1452.2 332.2L1439.9 332.2ZM1450.1 310.6L1462.1 308.2L1464.5 332.2L1452.2 332.2ZM1474.2 305.8L1486.2 303.5L1489.1 332.2L1476.8 332.2ZM1354.0 332.2L1366.3 332.2L1365.8 337.0L1353.7 334.6ZM1378.5 332.2L1390.8 332.2L1389.9 341.8L1377.8 339.4ZM1390.8 332.2L1403.1 332.2L1401.9 344.2L1389.9 341.8ZM1401.9 344.2L1414.0 346.6L1409.8 360.4L1398.4 355.7ZM1462.1 356.2L1474.2 358.6L1466.5 383.9L1455.2 379.2ZM1398.4 355.7L1409.8 360.4L1403.0 373.1L1392.8 366.3ZM1413.2 380.0L1423.4 386.8L1411.2 401.7L1402.5 393.0ZM1423.4 386.8L1433.6 393.6L1419.8 410.3L1411.2 401.7ZM1454.0 407.2L1464.2 414.1L1445.9 436.4L1437.2 427.7ZM1350.4 340.9L1359.1 349.6L1355.3 352.6L1348.5 342.4ZM1428.5 419.0L1437.2 427.7L1416.7 444.5L1409.9 434.3ZM1445.9 436.4L1454.6 445.1L1430.4 464.9L1423.6 454.7ZM1348.5 342.4L1355.3 352.6L1351.1 354.9L1346.4 343.5ZM1382.6 393.5L1389.5 403.7L1374.6 411.6L1369.9 400.3ZM1409.9 434.3L1416.7 444.5L1393.4 457.0L1388.7 445.7ZM1355.8 366.2L1360.5 377.6L1351.3 380.4L1348.9 368.3ZM1360.5 377.6L1365.2 388.9L1353.7 392.4L1351.3 380.4ZM1388.7 445.7L1393.4 457.0L1368.1 464.7L1365.7 452.6ZM1393.4 457.0L1398.1 468.3L1370.4 476.7L1368.1 464.7ZM1398.1 468.3L1402.8 479.7L1372.8 488.8L1370.4 476.7ZM1358.5 416.5L1360.9 428.6L1341.7 430.4L1341.7 418.2ZM1341.7 344.5L1341.7 356.8L1336.9 356.3L1339.3 344.2ZM1341.7 356.8L1341.7 369.0L1334.5 368.3L1336.9 356.3ZM1341.7 467.3L1341.7 479.6L1313.0 476.7L1315.3 464.7ZM1341.7 479.6L1341.7 491.8L1310.6 488.8L1313.0 476.7ZM1341.7 504.1L1341.7 516.4L1305.8 512.9L1308.2 500.8ZM1332.1 380.4L1329.7 392.4L1318.2 388.9L1322.9 377.6ZM1320.1 440.6L1317.7 452.6L1294.7 445.7L1299.4 434.3ZM1313.0 476.7L1310.6 488.8L1280.6 479.7L1285.3 468.3ZM1308.2 500.8L1305.8 512.9L1271.2 502.4L1275.9 491.0ZM1332.3 354.9L1327.6 366.2L1321.2 362.8L1328.1 352.6ZM1327.6 366.2L1322.9 377.6L1314.4 373.0L1321.2 362.8ZM1290.0 457.0L1285.3 468.3L1259.8 454.7L1266.7 444.5ZM1285.3 468.3L1280.6 479.7L1253.0 464.9L1259.8 454.7ZM1280.6 479.7L1275.9 491.0L1246.2 475.1L1253.0 464.9ZM1271.2 502.4L1266.5 513.7L1232.5 495.6L1239.4 485.4ZM1266.5 513.7L1261.8 525.1L1225.7 505.8L1232.5 495.6ZM1314.4 373.0L1307.6 383.3L1298.3 375.6L1307.0 366.9ZM1259.8 454.7L1253.0 464.9L1228.8 445.1L1237.5 436.4ZM1324.3 349.6L1315.7 358.2L1311.1 352.7L1321.3 345.8ZM1315.7 358.2L1307.0 366.9L1300.9 359.5L1311.1 352.7ZM1298.3 375.6L1289.6 384.3L1280.4 373.1L1290.6 366.3ZM1272.2 401.7L1263.6 410.3L1249.8 393.6L1260.0 386.8ZM1263.6 410.3L1254.9 419.0L1239.6 400.4L1249.8 393.6ZM1237.5 436.4L1228.8 445.1L1209.0 420.9L1219.2 414.1ZM1211.5 462.4L1202.8 471.1L1178.3 441.4L1188.5 434.5ZM1321.3 345.8L1311.1 352.7L1307.7 346.3L1319.0 341.6ZM1300.9 359.5L1290.6 366.3L1285.0 355.7L1296.3 351.0ZM1280.4 373.1L1270.2 380.0L1262.3 365.1L1273.6 360.4ZM1260.0 386.8L1249.8 393.6L1239.6 374.5L1250.9 369.8ZM1239.6 400.4L1229.4 407.2L1216.9 383.9L1228.2 379.2ZM1188.5 434.5L1178.3 441.4L1160.2 407.4L1171.5 402.7ZM1319.0 341.6L1307.7 346.3L1305.6 339.4L1317.6 337.0ZM1296.3 351.0L1285.0 355.7L1281.5 344.2L1293.5 341.8ZM1273.6 360.4L1262.3 365.1L1257.4 349.0L1269.4 346.6ZM1228.2 379.2L1216.9 383.9L1209.2 358.6L1221.3 356.2ZM1216.9 383.9L1205.6 388.6L1197.2 360.9L1209.2 358.6ZM1305.6 339.4L1293.5 341.8L1292.6 332.2L1304.9 332.2ZM1293.5 341.8L1281.5 344.2L1280.3 332.2L1292.6 332.2ZM1281.5 344.2L1269.4 346.6L1268.0 332.2L1280.3 332.2ZM1245.3 351.4L1233.3 353.8L1231.2 332.2L1243.5 332.2ZM1292.6 332.2L1280.3 332.2L1281.5 320.2L1293.5 322.6ZM1268.0 332.2L1255.7 332.2L1257.4 315.4L1269.4 317.8ZM1218.9 332.2L1206.6 332.2L1209.2 305.8L1221.3 308.2ZM1305.6 325.0L1293.5 322.6L1296.3 313.4L1307.7 318.1ZM1269.4 317.8L1257.4 315.4L1262.3 299.3L1273.6 304.0ZM1245.3 313.0L1233.3 310.6L1239.6 289.9L1250.9 294.6ZM1233.3 310.6L1221.3 308.2L1228.2 285.2L1239.6 289.9ZM1330.4 327.5L1319.0 322.8L1321.3 318.6L1331.5 325.4ZM1273.6 304.0L1262.3 299.3L1270.2 284.4L1280.4 291.3ZM1262.3 299.3L1250.9 294.6L1260.0 277.6L1270.2 284.4ZM1239.6 289.9L1228.2 285.2L1239.6 264.0L1249.8 270.8ZM1228.2 285.2L1216.9 280.5L1229.4 257.2L1239.6 264.0ZM1331.5 325.4L1321.3 318.6L1324.3 314.8L1333.0 323.5ZM1311.1 311.7L1300.9 304.9L1307.0 297.5L1315.7 306.2ZM1229.4 257.2L1219.2 250.3L1237.5 228.0L1246.2 236.7ZM1272.2 262.7L1263.6 254.1L1280.3 240.3L1287.1 250.5ZM1337.0 320.9L1332.3 309.5L1336.9 308.1L1339.3 320.2ZM1304.1 241.4L1299.4 230.1L1320.1 223.8L1322.5 235.8ZM1294.7 218.7L1290.0 207.4L1315.3 199.7L1317.7 211.8ZM1332.1 284.0L1329.7 272.0L1341.7 270.8L1341.7 283.1ZM1317.7 211.8L1315.3 199.7L1341.7 197.1L1341.7 209.4Z"/>
<path fill="#D1BD9C" d="M1358.5 247.9L1360.9 235.8L1379.3 241.4L1374.6 252.8ZM1346.4 320.9L1351.1 309.5L1355.3 311.8L1348.5 322.0ZM1384.0 230.1L1388.7 218.7L1409.9 230.1L1403.1 240.3ZM1388.7 218.7L1393.4 207.4L1416.7 219.9L1409.9 230.1ZM1348.5 322.0L1355.3 311.8L1359.1 314.8L1350.4 323.5ZM1403.1 240.3L1409.9 230.1L1428.5 245.4L1419.8 254.1ZM1350.4 323.5L1359.1 314.8L1362.1 318.6L1351.9 325.4ZM1359.1 314.8L1367.7 306.2L1372.3 311.7L1362.1 318.6ZM1393.8 280.1L1402.5 271.4L1413.2 284.4L1403.0 291.3ZM1364.4 322.8L1375.7 318.1L1377.8 325.0L1365.8 327.4ZM1443.8 289.9L1455.2 285.2L1462.1 308.2L1450.1 310.6ZM1365.8 327.4L1377.8 325.0L1378.5 332.2L1366.3 332.2ZM1377.8 325.0L1389.9 322.6L1390.8 332.2L1378.5 332.2ZM1389.9 322.6L1401.9 320.2L1403.1 332.2L1390.8 332.2ZM1401.9 320.2L1414.0 317.8L1415.4 332.2L1403.1 332.2ZM1353.7 334.6L1365.8 337.0L1364.4 341.6L1353.0 336.9ZM1365.8 337.0L1377.8 339.4L1375.7 346.3L1364.4 341.6ZM1426.0 349.0L1438.1 351.4L1432.5 369.8L1421.1 365.1ZM1353.0 336.9L1364.4 341.6L1362.1 345.8L1351.9 339.0ZM1409.8 360.4L1421.1 365.1L1413.2 380.0L1403.0 373.1ZM1362.1 345.8L1372.3 352.7L1367.7 358.2L1359.1 349.6ZM1392.8 366.3L1403.0 373.1L1393.8 384.3L1385.1 375.6ZM1359.1 349.6L1367.7 358.2L1362.2 362.8L1355.3 352.6ZM1367.7 358.2L1376.4 366.9L1369.0 373.0L1362.2 362.8ZM1385.1 375.6L1393.8 384.3L1382.6 393.5L1375.8 383.3ZM1402.5 393.0L1411.2 401.7L1396.3 413.9L1389.5 403.7ZM1355.3 352.6L1362.2 362.8L1355.8 366.2L1351.1 354.9ZM1362.2 362.8L1369.0 373.0L1360.5 377.6L1355.8 366.2ZM1396.3 413.9L1403.1 424.1L1384.0 434.3L1379.3 423.0ZM1348.9 368.3L1351.3 380.4L1341.7 381.3L1341.7 369.0ZM1356.1 404.5L1358.5 416.5L1341.7 418.2L1341.7 405.9ZM1365.7 452.6L1368.1 464.7L1341.7 467.3L1341.7 455.0ZM1368.1 464.7L1370.4 476.7L1341.7 479.6L1341.7 467.3ZM1370.4 476.7L1372.8 488.8L1341.7 491.8L1341.7 479.6ZM1341.7 369.0L1341.7 381.3L1332.1 380.4L1334.5 368.3ZM1341.7 491.8L1341.7 504.1L1308.2 500.8L1310.6 488.8ZM1339.3 344.2L1336.9 356.3L1332.3 354.9L1337.0 343.5ZM1329.7 392.4L1327.3 404.5L1313.5 400.3L1318.2 388.9ZM1324.9 416.5L1322.5 428.6L1304.1 423.0L1308.8 411.6ZM1317.7 452.6L1315.3 464.7L1290.0 457.0L1294.7 445.7ZM1310.6 488.8L1308.2 500.8L1275.9 491.0L1280.6 479.7ZM1308.8 411.6L1304.1 423.0L1287.1 413.9L1293.9 403.7ZM1294.7 445.7L1290.0 457.0L1266.7 444.5L1273.5 434.3ZM1300.8 393.5L1293.9 403.7L1280.9 393.0L1289.6 384.3ZM1293.9 403.7L1287.1 413.9L1272.2 401.7L1280.9 393.0ZM1307.0 366.9L1298.3 375.6L1290.6 366.3L1300.9 359.5ZM1254.9 419.0L1246.2 427.7L1229.4 407.2L1239.6 400.4ZM1331.5 339.0L1321.3 345.8L1319.0 341.6L1330.4 336.9ZM1311.1 352.7L1300.9 359.5L1296.3 351.0L1307.7 346.3ZM1307.7 346.3L1296.3 351.0L1293.5 341.8L1305.6 339.4ZM1329.4 332.2L1317.1 332.2L1317.6 327.4L1329.7 329.8ZM1280.3 332.2L1268.0 332.2L1269.4 317.8L1281.5 320.2ZM1329.7 329.8L1317.6 327.4L1319.0 322.8L1330.4 327.5ZM1281.5 320.2L1269.4 317.8L1273.6 304.0L1285.0 308.7ZM1307.7 318.1L1296.3 313.4L1300.9 304.9L1311.1 311.7ZM1296.3 313.4L1285.0 308.7L1290.6 298.1L1300.9 304.9ZM1216.9 280.5L1205.6 275.8L1219.2 250.3L1229.4 257.2ZM1209.0 243.5L1198.8 236.7L1220.1 210.6L1228.8 219.3ZM1333.0 323.5L1324.3 314.8L1328.1 311.8L1334.9 322.0ZM1315.7 306.2L1307.0 297.5L1314.4 291.4L1321.2 301.6ZM1246.2 236.7L1237.5 228.0L1259.8 209.7L1266.7 219.9ZM1237.5 228.0L1228.8 219.3L1253.0 199.5L1259.8 209.7ZM1334.9 322.0L1328.1 311.8L1332.3 309.5L1337.0 320.9ZM1321.2 301.6L1314.4 291.4L1322.9 286.8L1327.6 298.2ZM1293.9 260.7L1287.1 250.5L1304.1 241.4L1308.8 252.8ZM1287.1 250.5L1280.3 240.3L1299.4 230.1L1304.1 241.4ZM1266.7 219.9L1259.8 209.7L1285.3 196.1L1290.0 207.4ZM1332.3 309.5L1327.6 298.2L1334.5 296.1L1336.9 308.1ZM1322.9 286.8L1318.2 275.5L1329.7 272.0L1332.1 284.0ZM1299.4 230.1L1294.7 218.7L1317.7 211.8L1320.1 223.8ZM1320.1 223.8L1317.7 211.8L1341.7 209.4L1341.7 221.7Z"/>
<path fill="#ACAF86" d="M1348.9 296.1L1351.3 284.0L1360.5 286.8L1355.8 298.2ZM1360.9 235.8L1363.3 223.8L1384.0 230.1L1379.3 241.4ZM1363.3 223.8L1365.7 211.8L1388.7 218.7L1384.0 230.1ZM1351.1 309.5L1355.8 298.2L1362.2 301.6L1355.3 311.8ZM1355.8 298.2L1360.5 286.8L1369.0 291.4L1362.2 301.6ZM1379.3 241.4L1384.0 230.1L1403.1 240.3L1396.3 250.5ZM1355.3 311.8L1362.2 301.6L1367.7 306.2L1359.1 314.8ZM1369.0 291.4L1375.8 281.1L1385.1 288.8L1376.4 297.5ZM1376.4 297.5L1385.1 288.8L1392.8 298.1L1382.5 304.9ZM1385.1 288.8L1393.8 280.1L1403.0 291.3L1392.8 298.1ZM1392.8 298.1L1403.0 291.3L1409.8 304.0L1398.4 308.7ZM1403.0 291.3L1413.2 284.4L1421.1 299.3L1409.8 304.0ZM1413.2 284.4L1423.4 277.6L1432.5 294.6L1421.1 299.3ZM1433.6 270.8L1443.8 264.0L1455.2 285.2L1443.8 289.9ZM1387.1 313.4L1398.4 308.7L1401.9 320.2L1389.9 322.6ZM1409.8 304.0L1421.1 299.3L1426.0 315.4L1414.0 317.8ZM1432.5 294.6L1443.8 289.9L1450.1 310.6L1438.1 313.0ZM1414.0 317.8L1426.0 315.4L1427.7 332.2L1415.4 332.2ZM1366.3 332.2L1378.5 332.2L1377.8 339.4L1365.8 337.0ZM1403.1 332.2L1415.4 332.2L1414.0 346.6L1401.9 344.2ZM1452.2 332.2L1464.5 332.2L1462.1 356.2L1450.1 353.8ZM1377.8 339.4L1389.9 341.8L1387.1 351.0L1375.7 346.3ZM1375.7 346.3L1387.1 351.0L1382.5 359.5L1372.3 352.7ZM1432.5 369.8L1443.8 374.5L1433.6 393.6L1423.4 386.8ZM1403.0 373.1L1413.2 380.0L1402.5 393.0L1393.8 384.3ZM1369.0 373.0L1375.8 383.3L1365.2 388.9L1360.5 377.6ZM1389.5 403.7L1396.3 413.9L1379.3 423.0L1374.6 411.6ZM1379.3 423.0L1384.0 434.3L1363.3 440.6L1360.9 428.6ZM1341.7 418.2L1341.7 430.4L1322.5 428.6L1324.9 416.5ZM1327.3 404.5L1324.9 416.5L1308.8 411.6L1313.5 400.3ZM1322.9 377.6L1318.2 388.9L1307.6 383.3L1314.4 373.0ZM1318.2 388.9L1313.5 400.3L1300.8 393.5L1307.6 383.3ZM1328.1 352.6L1321.2 362.8L1315.7 358.2L1324.3 349.6ZM1307.6 383.3L1300.8 393.5L1289.6 384.3L1298.3 375.6ZM1285.0 355.7L1273.6 360.4L1269.4 346.6L1281.5 344.2ZM1262.3 365.1L1250.9 369.8L1245.3 351.4L1257.4 349.0ZM1317.1 332.2L1304.9 332.2L1305.6 325.0L1317.6 327.4ZM1317.6 327.4L1305.6 325.0L1307.7 318.1L1319.0 322.8ZM1319.0 322.8L1307.7 318.1L1311.1 311.7L1321.3 318.6ZM1285.0 308.7L1273.6 304.0L1280.4 291.3L1290.6 298.1ZM1280.4 291.3L1270.2 284.4L1280.9 271.4L1289.6 280.1ZM1270.2 284.4L1260.0 277.6L1272.2 262.7L1280.9 271.4ZM1260.0 277.6L1249.8 270.8L1263.6 254.1L1272.2 262.7ZM1324.3 314.8L1315.7 306.2L1321.2 301.6L1328.1 311.8ZM1298.3 288.8L1289.6 280.1L1300.8 270.9L1307.6 281.1ZM1289.6 280.1L1280.9 271.4L1293.9 260.7L1300.8 270.9ZM1328.1 311.8L1321.2 301.6L1327.6 298.2L1332.3 309.5ZM1314.4 291.4L1307.6 281.1L1318.2 275.5L1322.9 286.8ZM1308.8 252.8L1304.1 241.4L1322.5 235.8L1324.9 247.9ZM1324.9 247.9L1322.5 235.8L1341.7 234.0L1341.7 246.2Z"/>
<path fill="#83A57B" d="M1341.7 307.6L1341.7 295.4L1348.9 296.1L1346.5 308.1ZM1341.7 270.8L1341.7 258.5L1356.1 259.9L1353.7 272.0ZM1341.7 258.5L1341.7 246.2L1358.5 247.9L1356.1 259.9ZM1341.7 234.0L1341.7 221.7L1363.3 223.8L1360.9 235.8ZM1341.7 221.7L1341.7 209.4L1365.7 211.8L1363.3 223.8ZM1353.7 272.0L1356.1 259.9L1369.9 264.1L1365.2 275.5ZM1365.2 275.5L1369.9 264.1L1382.6 270.9L1375.8 281.1ZM1396.3 250.5L1403.1 240.3L1419.8 254.1L1411.2 262.7ZM1428.5 245.4L1437.2 236.7L1454.0 257.2L1443.8 264.0ZM1362.1 318.6L1372.3 311.7L1375.7 318.1L1364.4 322.8ZM1443.8 264.0L1454.0 257.2L1466.5 280.5L1455.2 285.2ZM1398.4 308.7L1409.8 304.0L1414.0 317.8L1401.9 320.2ZM1421.1 299.3L1432.5 294.6L1438.1 313.0L1426.0 315.4ZM1426.0 315.4L1438.1 313.0L1439.9 332.2L1427.7 332.2ZM1415.4 332.2L1427.7 332.2L1426.0 349.0L1414.0 346.6ZM1427.7 332.2L1439.9 332.2L1438.1 351.4L1426.0 349.0ZM1364.4 341.6L1375.7 346.3L1372.3 352.7L1362.1 345.8ZM1387.1 351.0L1398.4 355.7L1392.8 366.3L1382.5 359.5ZM1382.5 359.5L1392.8 366.3L1385.1 375.6L1376.4 366.9ZM1365.2 388.9L1369.9 400.3L1356.1 404.5L1353.7 392.4ZM1341.7 393.6L1341.7 405.9L1327.3 404.5L1329.7 392.4ZM1336.9 356.3L1334.5 368.3L1327.6 366.2L1332.3 354.9ZM1334.5 368.3L1332.1 380.4L1322.9 377.6L1327.6 366.2ZM1280.9 271.4L1272.2 262.7L1287.1 250.5L1293.9 260.7ZM1300.8 270.9L1293.9 260.7L1308.8 252.8L1313.5 264.1ZM1280.3 240.3L1273.5 230.1L1294.7 218.7L1299.4 230.1ZM1336.9 308.1L1334.5 296.1L1341.7 295.4L1341.7 307.6ZM1322.5 235.8L1320.1 223.8L1341.7 221.7L1341.7 234.0Z"/>
<path fill="#58976F" d="M1341.7 295.4L1341.7 283.1L1351.3 284.0L1348.9 296.1ZM1341.7 246.2L1341.7 234.0L1360.9 235.8L1358.5 247.9ZM1360.5 286.8L1365.2 275.5L1375.8 281.1L1369.0 291.4ZM1369.9 264.1L1374.6 252.8L1389.5 260.7L1382.6 270.9ZM1382.5 304.9L1392.8 298.1L1398.4 308.7L1387.1 313.4ZM1375.7 318.1L1387.1 313.4L1389.9 322.6L1377.8 325.0ZM1389.9 341.8L1401.9 344.2L1398.4 355.7L1387.1 351.0ZM1421.1 365.1L1432.5 369.8L1423.4 386.8L1413.2 380.0ZM1376.4 366.9L1385.1 375.6L1375.8 383.3L1369.0 373.0ZM1393.8 384.3L1402.5 393.0L1389.5 403.7L1382.6 393.5ZM1369.9 400.3L1374.6 411.6L1358.5 416.5L1356.1 404.5ZM1330.4 336.9L1319.0 341.6L1317.6 337.0L1329.7 334.6ZM1300.9 304.9L1290.6 298.1L1298.3 288.8L1307.0 297.5ZM1290.6 298.1L1280.4 291.3L1289.6 280.1L1298.3 288.8ZM1263.6 254.1L1254.9 245.4L1273.5 230.1L1280.3 240.3ZM1334.5 296.1L1332.1 284.0L1341.7 283.1L1341.7 295.4Z"/>
<path fill="#26896F" d="M1362.2 301.6L1369.0 291.4L1376.4 297.5L1367.7 306.2ZM1389.5 260.7L1396.3 250.5L1411.2 262.7L1402.5 271.4ZM1411.2 262.7L1419.8 254.1L1433.6 270.8L1423.4 277.6ZM1375.8 383.3L1382.6 393.5L1369.9 400.3L1365.2 388.9ZM1351.3 380.4L1353.7 392.4L1341.7 393.6L1341.7 381.3ZM1353.7 392.4L1356.1 404.5L1341.7 405.9L1341.7 393.6ZM1341.7 405.9L1341.7 418.2L1324.9 416.5L1327.3 404.5ZM1254.9 245.4L1246.2 236.7L1266.7 219.9L1273.5 230.1ZM1307.6 281.1L1300.8 270.9L1313.5 264.1L1318.2 275.5ZM1273.5 230.1L1266.7 219.9L1290.0 207.4L1294.7 218.7ZM1327.6 298.2L1322.9 286.8L1332.1 284.0L1334.5 296.1ZM1313.5 264.1L1308.8 252.8L1324.9 247.9L1327.3 259.9ZM1329.7 272.0L1327.3 259.9L1341.7 258.5L1341.7 270.8Z"/>
<path fill="#03766F" d="M1375.8 281.1L1382.6 270.9L1393.8 280.1L1385.1 288.8Z"/>
<path fill="#125B6B" d="M1341.7 283.1L1341.7 270.8L1353.7 272.0L1351.3 284.0ZM1351.3 284.0L1353.7 272.0L1365.2 275.5L1360.5 286.8ZM1374.6 252.8L1379.3 241.4L1396.3 250.5L1389.5 260.7ZM1327.3 259.9L1324.9 247.9L1341.7 246.2L1341.7 258.5Z"/>
<path fill="#26334F" d="M1423.4 277.6L1433.6 270.8L1443.8 289.9L1432.5 294.6Z"/>
<path fill="#221B39" d="M1356.1 259.9L1358.5 247.9L1374.6 252.8L1369.9 264.1ZM1382.6 270.9L1389.5 260.7L1402.5 271.4L1393.8 280.1ZM1402.5 271.4L1411.2 262.7L1423.4 277.6L1413.2 284.4Z"/>
</g>
<g fill="none" stroke="#b0b0b0" stroke-width="1.1">
<circle cx="1341.7" cy="332.2" r="43.36"/>
<circle cx="1341.7" cy="332.2" r="86.72"/>
<circle cx="1341.7" cy="332.2" r="130.08"/>
<circle cx="1341.7" cy="332.2" r="173.44"/>
<circle cx="1341.7" cy="332.2" r="216.80"/>
<path d="M1341.7 332.2L1507.4 166.5"/>
<path d="M1341.7 332.2L1507.4 497.9"/>
<path d="M1341.7 332.2L1176.0 497.9"/>
<path d="M1341.7 332.2L1176.0 166.5"/>
<path d="M1342.5 97.8V566.6"/>
<path d="M1107.3 332.5H1576.1"/>
</g>
<circle cx="1341.7" cy="332.2" r="234.4" fill="none" stroke="#000" stroke-width="1.35"/>
<rect x="406.5" y="605.5" width="799.9" height="30.0" fill="url(#cb)" stroke="#000" stroke-width="1.1"/>
<path d="M406.5 635.5V657.0" stroke="#000" stroke-width="1.1"/>
<path d="M551.5 635.5V657.0" stroke="#000" stroke-width="1.1"/>
<path d="M697.5 635.5V657.0" stroke="#000" stroke-width="1.1"/>
<path d="M842.5 635.5V657.0" stroke="#000" stroke-width="1.1"/>
<path d="M988.5 635.5V657.0" stroke="#000" stroke-width="1.1"/>
<path d="M1133.5 635.5V657.0" stroke="#000" stroke-width="1.1"/>
</svg>
<div class="t" style="left:739.40px;top:7.39px;font-size:28.71px;transform:scaleX(1.0795);">Aug 2005</div>
<div class="t" style="left:235.99px;top:39.87px;font-size:25.21px;transform:scaleX(0.9620);">CIOFS</div>
<div class="t" style="left:758.49px;top:39.56px;font-size:25.57px;transform:scaleX(0.9808);">NWGOA</div>
<div class="t" style="left:1250.56px;top:39.87px;font-size:25.21px;transform:scaleX(0.9875);">CIOFS-NWGOA</div>
<div class="t" style="left:265.56px;top:67.03px;font-size:20.43px;transform:scaleX(1.0646);">N</div>
<div class="t" style="left:267.87px;top:575.92px;font-size:19.86px;transform:scaleX(0.9217);">S</div>
<div class="t" style="left:11.80px;top:320.95px;font-size:20.29px;transform:scaleX(0.9235);">W</div>
<div class="t" style="left:522.25px;top:320.95px;font-size:20.29px;transform:scaleX(0.8334);">E</div>
<div class="t" style="left:314.18px;top:295.00px;font-size:20.00px;transform:scaleX(1.0274);">0.1</div>
<div class="t" style="left:354.28px;top:278.35px;font-size:20.00px;transform:scaleX(1.0274);">0.2</div>
<div class="t" style="left:394.39px;top:261.70px;font-size:20.00px;transform:scaleX(1.0196);">0.3</div>
<div class="t" style="left:434.49px;top:245.05px;font-size:20.00px;transform:scaleX(1.0120);">0.4</div>
<div class="t" style="left:474.59px;top:228.40px;font-size:20.00px;transform:scaleX(1.0196);">0.5</div>
<div class="t" style="left:799.66px;top:67.03px;font-size:20.43px;transform:scaleX(1.0646);">N</div>
<div class="t" style="left:801.97px;top:575.92px;font-size:19.86px;transform:scaleX(0.9217);">S</div>
<div class="t" style="left:545.90px;top:320.95px;font-size:20.29px;transform:scaleX(0.9235);">W</div>
<div class="t" style="left:1056.35px;top:320.95px;font-size:20.29px;transform:scaleX(0.8334);">E</div>
<div class="t" style="left:848.28px;top:295.00px;font-size:20.00px;transform:scaleX(1.0274);">0.1</div>
<div class="t" style="left:888.38px;top:278.35px;font-size:20.00px;transform:scaleX(1.0274);">0.2</div>
<div class="t" style="left:928.49px;top:261.70px;font-size:20.00px;transform:scaleX(1.0196);">0.3</div>
<div class="t" style="left:968.59px;top:245.05px;font-size:20.00px;transform:scaleX(1.0120);">0.4</div>
<div class="t" style="left:1008.69px;top:228.40px;font-size:20.00px;transform:scaleX(1.0196);">0.5</div>
<div class="t" style="left:1333.76px;top:67.03px;font-size:20.43px;transform:scaleX(1.0646);">N</div>
<div class="t" style="left:1336.07px;top:575.92px;font-size:19.86px;transform:scaleX(0.9217);">S</div>
<div class="t" style="left:1080.00px;top:320.95px;font-size:20.29px;transform:scaleX(0.9235);">W</div>
<div class="t" style="left:1590.45px;top:320.95px;font-size:20.29px;transform:scaleX(0.8334);">E</div>
<div class="t" style="left:1382.38px;top:295.00px;font-size:20.00px;transform:scaleX(1.0274);">0.1</div>
<div class="t" style="left:1422.48px;top:278.35px;font-size:20.00px;transform:scaleX(1.0274);">0.2</div>
<div class="t" style="left:1462.59px;top:261.70px;font-size:20.00px;transform:scaleX(1.0196);">0.3</div>
<div class="t" style="left:1502.69px;top:245.05px;font-size:20.00px;transform:scaleX(1.0120);">0.4</div>
<div class="t" style="left:1542.79px;top:228.40px;font-size:20.00px;transform:scaleX(1.0196);">0.5</div>
<div class="t" style="left:399.93px;top:663.19px;font-size:21.43px;transform:scaleX(1.1143);">0</div>
<div class="t" style="left:544.92px;top:663.19px;font-size:21.43px;transform:scaleX(1.1870);">2</div>
<div class="t" style="left:691.28px;top:663.19px;font-size:21.43px;transform:scaleX(1.0706);">4</div>
<div class="t" style="left:836.04px;top:663.19px;font-size:21.43px;transform:scaleX(1.1617);">6</div>
<div class="t" style="left:981.86px;top:663.19px;font-size:21.43px;transform:scaleX(1.1375);">8</div>
<div class="t" style="left:1119.97px;top:663.19px;font-size:21.43px;transform:scaleX(1.1039);">10</div>
<div class="t" style="left:522.14px;top:690.29px;font-size:21.78px;transform:scaleX(1.1561);">Currents [m/s] at COI0421; number of occurrences</div>
</body></html>
